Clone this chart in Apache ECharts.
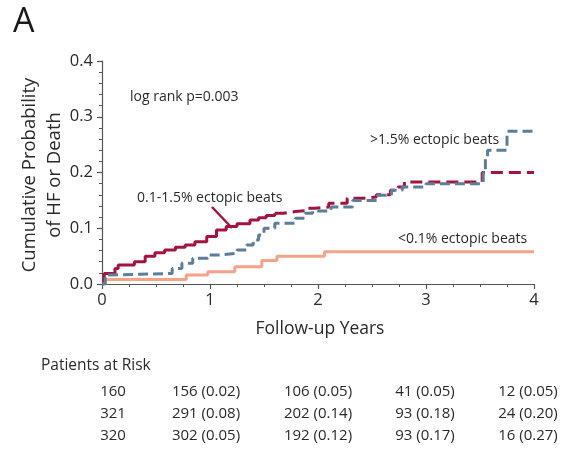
<!DOCTYPE html>
<html>
<head>
<meta charset="utf-8">
<script src="https://cdn.jsdelivr.net/npm/echarts@6/dist/echarts.min.js"></script>
<style>
html,body{margin:0;padding:0;background:#fff;}
#c{width:572px;height:458px;}
</style>
</head>
<body>
<div id="c"></div>
<script>
// ---- data ----
const xTicks = [0, 1, 2, 3, 4];
const yTicks = [0.0, 0.1, 0.2, 0.3, 0.4];

const lowT = [0, 0.03, 0.78, 0.98, 1.23, 1.48, 1.62, 2.06, 4.0];
const lowP = [0, 0.008, 0.016, 0.022, 0.031, 0.042, 0.050, 0.058, 0.058];

const midT = [0, 0.02, 0.12, 0.15, 0.30, 0.40, 0.49, 0.58, 0.68, 0.77, 0.86, 0.97, 1.06, 1.15, 1.25, 1.37, 1.45, 1.52, 1.60, 1.68, 1.79, 1.90, 1.97, 2.10, 2.27, 2.42, 2.54, 2.67, 2.74, 2.80, 3.52, 4.0];
const midP = [0, 0.019, 0.028, 0.034, 0.040, 0.050, 0.056, 0.061, 0.066, 0.070, 0.076, 0.085, 0.097, 0.103, 0.108, 0.115, 0.119, 0.123, 0.127, 0.130, 0.132, 0.136, 0.138, 0.145, 0.154, 0.156, 0.160, 0.168, 0.174, 0.183, 0.200, 0.200];

const highT = [0, 0.03, 0.06, 0.65, 0.74, 0.84, 0.98, 1.08, 1.25, 1.34, 1.40, 1.45, 1.50, 1.60, 1.79, 1.88, 1.95, 2.12, 2.32, 2.55, 2.68, 2.78, 3.00, 3.53, 3.55, 3.57, 3.75, 4.0];
const highP = [0, 0.016, 0.019, 0.028, 0.037, 0.046, 0.052, 0.055, 0.061, 0.070, 0.079, 0.088, 0.100, 0.109, 0.118, 0.127, 0.131, 0.138, 0.150, 0.159, 0.168, 0.174, 0.180, 0.200, 0.225, 0.240, 0.274, 0.274];

const riskLow  = ['160', '156 (0.02)', '106 (0.05)', '41 (0.05)', '12 (0.05)'];
const riskMid  = ['321', '291 (0.08)', '202 (0.14)', '93 (0.18)', '24 (0.20)'];
const riskHigh = ['320', '302 (0.05)', '192 (0.12)', '93 (0.17)', '16 (0.27)'];

const labelLow = '<0.1% ectopic beats';
const labelMid = '0.1-1.5% ectopic beats';
const labelHigh = '>1.5% ectopic beats';
const pText = 'log rank p=0.003';

// ---- styles / layout ----
const FONT = '"Open Sans", "Noto Sans", sans-serif';
const TXT = '#2a2a2a';
const cLow = '#F2A389', cMid = '#A3133F', cHigh = '#5E7D98';
const colX = [113, 206, 318, 425, 528];
const rowY = [392, 414, 436];

function pairs(t, p) { return t.map((v, i) => [v, p[i]]); }
const splitT = 1.6;
const midAll = pairs(midT, midP);
const splitIdx = midT.indexOf(splitT);
const midSolid = midAll.slice(0, splitIdx + 1);
const midDash = midAll.slice(splitIdx);

const chart = echarts.init(document.getElementById('c'), null, {renderer: 'canvas'});

const ann = (x, y, text, size, extra) => Object.assign({type: 'text', x: x, y: y,
  style: {text: text, font: '500 ' + size + 'px ' + FONT, fill: TXT, align: 'left', verticalAlign: 'middle'}}, extra || {});

const graphics = [
  {type: 'text', x: 13, y: 22, style: {text: 'A', font: '34px ' + FONT, fill: '#1a1a1a', verticalAlign: 'middle'}},
  {type: 'text', x: 42, y: 175, rotation: Math.PI / 2,
   style: {text: 'Cumulative Probability\nof HF or Death', font: '500 18.5px ' + FONT, fill: TXT,
           align: 'center', verticalAlign: 'middle', lineHeight: 25}},
  {type: 'text', x: 320, y: 329, style: {text: 'Follow-up Years', font: '500 17.5px ' + FONT, fill: TXT, align: 'center', verticalAlign: 'middle'}},
  ann(41, 366, 'Patients at Risk', 15.5),
  ann(130, 97, pText, 14),
  ann(137, 198, labelMid, 14),
  ann(370, 140, labelHigh, 14),
  ann(398, 239, labelLow, 14),
  {type: 'line', shape: {x1: 212, y1: 207, x2: 232, y2: 228}, style: {stroke: cMid, lineWidth: 2.5}}
];
[riskLow, riskMid, riskHigh].forEach((row, r) => {
  row.forEach((s, c) => {
    graphics.push({type: 'text', x: colX[c], y: rowY[r],
      style: {text: s, font: '500 15px ' + FONT, fill: TXT, align: 'center', verticalAlign: 'middle'}});
  });
});

const axisLineStyle = {color: '#555', width: 1.2};

chart.setOption({
  animation: false,
  backgroundColor: '#fff',
  grid: {left: 102, right: 38, top: 61, bottom: 174, containLabel: false},
  xAxis: {
    type: 'value', min: xTicks[0], max: xTicks[xTicks.length - 1], interval: 1,
    axisLine: {lineStyle: axisLineStyle},
    axisTick: {show: true, length: 5, lineStyle: axisLineStyle},
    minorTick: {show: true, splitNumber: 4, length: 3, lineStyle: {color: '#555', width: 1}},
    splitLine: {show: false},
    axisLabel: {color: TXT, fontSize: 16.5, fontWeight: 500, fontFamily: FONT, margin: 8}
  },
  yAxis: {
    type: 'value', min: yTicks[0], max: yTicks[yTicks.length - 1], interval: 0.1,
    axisLine: {show: true, lineStyle: axisLineStyle},
    axisTick: {show: true, length: 5, lineStyle: axisLineStyle},
    minorTick: {show: true, splitNumber: 5, length: 3, lineStyle: {color: '#555', width: 1}},
    splitLine: {show: false},
    axisLabel: {color: TXT, fontSize: 16.5, fontWeight: 500, fontFamily: FONT, margin: 9, formatter: v => v.toFixed(1)}
  },
  series: [
    {type: 'line', step: 'end', symbol: 'none', data: pairs(lowT, lowP),
     lineStyle: {color: cLow, width: 3}},
    {type: 'line', step: 'end', symbol: 'none', data: midSolid,
     lineStyle: {color: cMid, width: 3}},
    {type: 'line', step: 'end', symbol: 'none', data: midDash,
     lineStyle: {color: cMid, width: 3, type: [12, 6]}},
    {type: 'line', step: 'end', symbol: 'none', data: pairs(highT, highP),
     lineStyle: {color: cHigh, width: 3, type: [10, 5]}}
  ],
  graphic: graphics
});
</script>
</body>
</html>
